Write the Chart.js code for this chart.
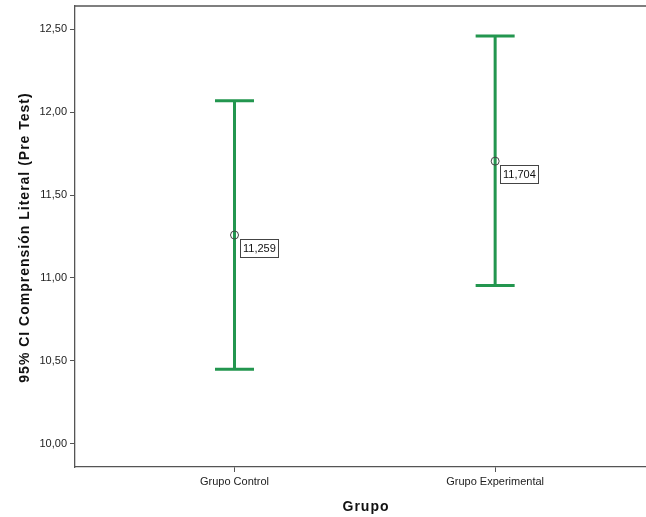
<!DOCTYPE html>
<html>
<head>
<meta charset="utf-8">
<script src="https://cdn.jsdelivr.net/npm/chart.js@4.4.1/dist/chart.umd.min.js"></script>
<style>
  html, body { margin: 0; background: #fff; overflow: hidden; width: 646px; height: 517px; }
  canvas { display: block; }
</style>
</head>
<body>
<!-- canvas a bit wider than the window: the plot frame runs off the right edge like in SPSS -->
<canvas id="ciChart" width="656" height="517"></canvas>
<script>
// Data
const groups = ['Grupo Control', 'Grupo Experimental'];
const means = [11.259, 11.704];
const lower = [10.45, 10.954];
const upper = [12.068, 12.458];
const yTicks = [10, 10.5, 11, 11.5, 12, 12.5];
const xTitle = 'Grupo';
const yTitle = '95% CI Comprensión Literal (Pre Test)';

const barColor = '#23964f';
const axisColor = '#555';
const fontFamily = "'Liberation Sans', Arial, sans-serif";

const fmt = v => v.toFixed(2).replace('.', ',');
const fmtMean = v => v.toFixed(3).replace('.', ',');

// -------------------- Error bars + labels --------------------
const errorBarPlugin = {
  id: 'errorBars',
  beforeDatasetsDraw(chart){
    const {ctx, scales: {x, y}, chartArea} = chart;
    ctx.save();
    // top frame line
    ctx.strokeStyle = axisColor;
    ctx.lineWidth = 1.3;
    ctx.beginPath();
    ctx.moveTo(chartArea.left, chartArea.top);
    ctx.lineTo(chartArea.right, chartArea.top);
    ctx.stroke();

    ctx.strokeStyle = barColor;
    ctx.lineWidth = 3;
    groups.forEach((g, i) => {
      const px = x.getPixelForValue(i);
      const yl = y.getPixelForValue(lower[i]);
      const yu = y.getPixelForValue(upper[i]);
      const cap = 19.5;
      ctx.beginPath();
      ctx.moveTo(px, yl); ctx.lineTo(px, yu);
      ctx.moveTo(px - cap, yl); ctx.lineTo(px + cap, yl);
      ctx.moveTo(px - cap, yu); ctx.lineTo(px + cap, yu);
      ctx.stroke();
    });
    ctx.restore();
  },
  afterDatasetsDraw(chart){
    const {ctx, scales: {x, y}, chartArea} = chart;
    ctx.save();
    ctx.font = '11px ' + fontFamily;
    ctx.textBaseline = 'middle';
    ctx.textAlign = 'left';
    means.forEach((m, i) => {
      const px = x.getPixelForValue(i);
      const py = y.getPixelForValue(m);
      const bx = Math.round(px + 5) + 0.5;
      const by = Math.round(py + 4) + 0.5;
      const txt = fmtMean(m);
      const w = Math.ceil(ctx.measureText(txt).width) + 5;
      ctx.fillStyle = '#fff';
      ctx.fillRect(bx, by, w, 18);
      ctx.strokeStyle = '#444';
      ctx.lineWidth = 1;
      ctx.strokeRect(bx, by, w, 18);
      ctx.fillStyle = '#111';
      ctx.fillText(txt, bx + 2.5, by + 9.5);
    });

    // axis titles (SPSS style, slightly spaced letters)
    ctx.font = 'bold 14px ' + fontFamily;
    ctx.letterSpacing = '1px';
    ctx.fillStyle = '#111';
    ctx.textAlign = 'center';
    ctx.textBaseline = 'alphabetic';
    ctx.fillText(xTitle, 366, 511);
    ctx.translate(29, (chartArea.top + chartArea.bottom) / 2 + 1);
    ctx.rotate(-Math.PI / 2);
    ctx.fillText(yTitle, 0, 0);
    ctx.restore();
  }
};

// -------------------- Chart --------------------
const ctx = document.getElementById('ciChart').getContext('2d');
const ciChart = new Chart(ctx, {
  type: 'scatter',
  data: {
    datasets: [{
      label: 'Media',
      data: means.map((m, i) => ({x: i, y: m})),
      pointRadius: 4,
      pointBorderWidth: 1,
      pointBorderColor: '#444',
      pointBackgroundColor: 'rgba(0,0,0,0)',
      showLine: false
    }]
  },
  options: {
    responsive: false,
    animation: false,
    layout: { padding: { top: 6, right: 0, left: 0, bottom: 0 } },
    plugins: { legend: { display: false }, tooltip: { enabled: false } },
    scales: {
      x: {
        type: 'linear',
        min: -0.612,
        max: 1.598,
        afterBuildTicks: scale => { scale.ticks = groups.map((g, i) => ({value: i})); },
        afterFit: scale => { scale.height = 50; scale.paddingLeft = 0; scale.paddingRight = 0; },
        grid: { display: true, drawOnChartArea: false, drawTicks: true, tickLength: 5, color: axisColor },
        border: { display: true, color: axisColor, width: 1.3 },
        ticks: {
          padding: 3,
          color: '#222',
          font: { family: fontFamily, size: 11 },
          maxRotation: 0,
          callback: v => groups[v]
        },
        title: { display: false }
      },
      y: {
        min: 9.861,
        max: 12.639,
        afterBuildTicks: scale => { scale.ticks = yTicks.map(v => ({value: v})); },
        afterFit: scale => { scale.width = 75; scale.paddingTop = 0; scale.paddingBottom = 0; },
        grid: { display: true, drawOnChartArea: false, drawTicks: true, tickLength: 5, color: axisColor },
        border: { display: true, color: axisColor, width: 1.3 },
        ticks: {
          padding: 3,
          color: '#222',
          font: { family: fontFamily, size: 11 },
          callback: v => fmt(v)
        },
        title: { display: false }
      }
    }
  },
  plugins: [errorBarPlugin]
});
</script>
</body>
</html>
